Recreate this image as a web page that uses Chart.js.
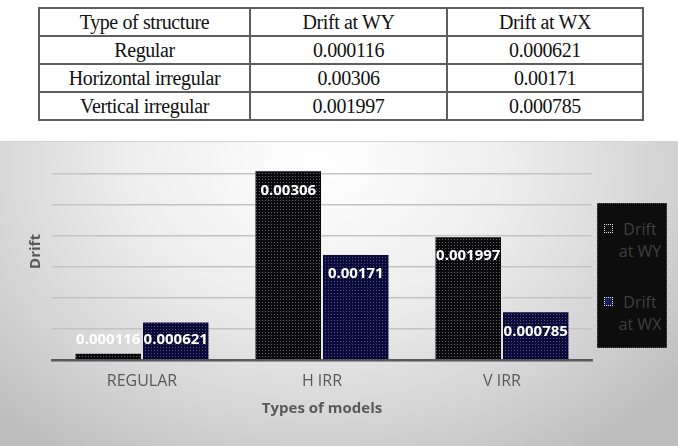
<!DOCTYPE html>
<html lang="en">
<head>
    <meta charset="UTF-8">
    <title>Drift by type of structure</title>
    <script src="https://cdn.jsdelivr.net/npm/chart.js"></script>
    <style>
        body { margin: 0; width: 678px; height: 446px; overflow: hidden; background: #fff; position: relative; }
        #driftTable {
            position: absolute; left: 38px; top: 7px;
            border-collapse: collapse;
            font-family: "Liberation Serif", serif; font-size: 20px; color: #111;
        }
        #driftTable td {
            border: 2px solid #5e5e5e; text-align: center; padding: 0; height: 26px;
            letter-spacing: -0.4px;
        }
        #chartBox {
            position: absolute; left: 0; top: 141px; width: 678px; height: 305px;
            border-top: 1px solid #d4d4d4; box-sizing: border-box;
            background: radial-gradient(ellipse 68% 115% at 47% 8%, #ffffff 0%, #eeeeee 40%, #d6d6d6 72%, #bdbdbd 100%);
        }
        #legend {
            position: absolute; left: 597px; top: 203px; width: 70px; height: 145px;
            background: #0d0d0d; border: 1px dotted #555; box-sizing: border-box;
            font-family: "Open Sans", sans-serif; font-size: 16px; color: #3f3f3f;
        }
        .item { position: absolute; left: 0; width: 70px; }
        .mark { position: absolute; left: 6px; width: 9px; height: 9px; box-sizing: border-box; border: 1px dotted #e0e0e0; }
        .txt { position: absolute; left: 16px; width: 52px; text-align: center; line-height: 22px; }
    </style>
</head>
<body>
    <table id="driftTable">
        <tr><td style="width:209px">Type of structure</td><td style="width:195px">Drift at WY</td><td style="width:194px">Drift at WX</td></tr>
    </table>
    <div id="chartBox"><canvas id="driftChart" width="678" height="304"></canvas></div>
    <div id="legend"></div>

    <script>
        const structures = ["Regular", "Horizontal irregular", "Vertical irregular"];
        const models = ["REGULAR", "H IRR", "V IRR"];
        const seriesNames = ["Drift at WY", "Drift at WX"];
        const driftWY = [0.000116, 0.00306, 0.001997];
        const driftWX = [0.000621, 0.00171, 0.000785];
        const driftWYText = ["0.000116", "0.00306", "0.001997"];
        const driftWXText = ["0.000621", "0.00171", "0.000785"];

        // table rows
        const table = document.getElementById("driftTable");
        structures.forEach((s, i) => {
            const tr = document.createElement("tr");
            [s, driftWYText[i], driftWXText[i]].forEach(t => {
                const td = document.createElement("td");
                td.textContent = t;
                tr.appendChild(td);
            });
            table.appendChild(tr);
        });

        // dotted fill like the excel pattern
        function dots(base, dot, size) {
            const c = document.createElement("canvas");
            c.width = size; c.height = size;
            const g = c.getContext("2d");
            g.fillStyle = base; g.fillRect(0, 0, size, size);
            g.fillStyle = dot; g.fillRect(1, 1, 1, 1);
            return g.createPattern(c, "repeat");
        }
        function edge() {
            const c = document.createElement("canvas");
            c.width = 2; c.height = 2;
            const g = c.getContext("2d");
            g.fillStyle = "#e6e6e6"; g.fillRect(0, 0, 1, 1); g.fillRect(1, 1, 1, 1);
            return g.createPattern(c, "repeat");
        }
        const ctx = document.getElementById("driftChart").getContext("2d");
        const fillWY = dots("#0a0a0d", "#62626c", 3);
        const fillWX = dots("#0a0a38", "#50508a", 3);

        const barLabels = {
            id: "barLabels",
            afterDatasetsDraw(chart) {
                const c = chart.ctx;
                const texts = [driftWYText, driftWXText];
                c.save();
                c.font = "bold 15px 'Open Sans', sans-serif";
                c.fillStyle = "#ffffff";
                c.textAlign = "center";
                c.textBaseline = "middle";
                chart.data.datasets.forEach((ds, d) => {
                    chart.getDatasetMeta(d).data.forEach((bar, i) => {
                        const y = Math.min(bar.y + 20, bar.base - 20);
                        c.fillText(texts[d][i], bar.x, y);
                    });
                });
                c.restore();
            }
        };

        const driftChart = new Chart(ctx, {
            type: "bar",
            data: {
                labels: models,
                datasets: [
                    { label: seriesNames[0], data: driftWY, backgroundColor: fillWY, borderColor: edge(), borderWidth: 1 },
                    { label: seriesNames[1], data: driftWX, backgroundColor: fillWX, borderColor: edge(), borderWidth: 1 }
                ]
            },
            options: {
                responsive: false,
                devicePixelRatio: 1,
                animation: false,
                categoryPercentage: 0.75,
                barPercentage: 1.0,
                layout: { padding: { left: 0, right: 86, top: 1, bottom: 0 } },
                plugins: { legend: { display: false }, tooltip: { enabled: false } },
                scales: {
                    y: {
                        min: 0, max: 0.0035,
                        ticks: { display: false, stepSize: 0.0005 },
                        border: { display: false },
                        grid: {
                            drawTicks: false,
                            lineWidth: 1.5,
                            color: c => (c.tick && (c.tick.value <= 0 || c.tick.value >= 0.0035)) ? "rgba(0,0,0,0)" : "#c3c3c3"
                        },
                        title: {
                            display: true, text: "Drift", color: "#595959",
                            font: { family: "'Open Sans', sans-serif", size: 15, weight: "bold" },
                            padding: { top: 27, bottom: 0 }
                        },
                        afterFit(scale) { scale.width = 52; }
                    },
                    x: {
                        grid: { display: false, drawTicks: false },
                        border: { color: "#595959", width: 2.5 },
                        ticks: { color: "#595959", padding: 12, font: { family: "'Open Sans', sans-serif", size: 16 } },
                        title: {
                            display: true, text: "Types of models", color: "#595959",
                            font: { family: "'Open Sans', sans-serif", size: 15, weight: "bold" },
                            padding: { top: 0, bottom: 28 }
                        },
                        afterFit(scale) { scale.height = 86; }
                    }
                }
            },
            plugins: [barLabels]
        });

        // legend box on the right
        const legend = document.getElementById("legend");
        const markFills = ["#121214", "#1a1a55"];
        const tops = [14, 87];
        seriesNames.forEach((name, i) => {
            const item = document.createElement("div");
            item.className = "item";
            item.style.top = tops[i] + "px";
            const m = document.createElement("div");
            m.className = "mark";
            m.style.top = "6px";
            m.style.background = markFills[i];
            const t = document.createElement("div");
            t.className = "txt";
            const parts = name.split(" ");
            t.innerHTML = parts[0] + "<br>" + parts.slice(1).join(" ");
            item.appendChild(m);
            item.appendChild(t);
            legend.appendChild(item);
        });
    </script>
</body>
</html>
